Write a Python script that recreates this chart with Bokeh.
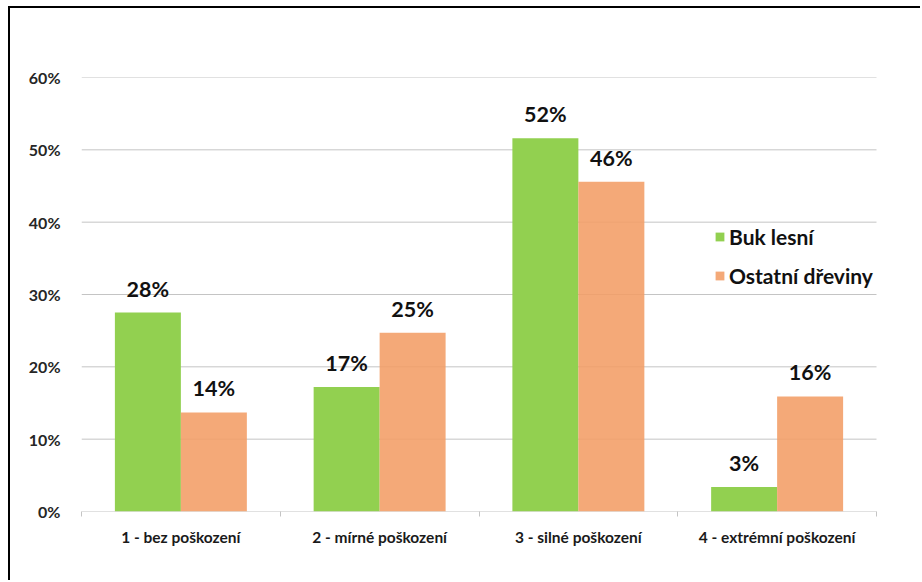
from bokeh.plotting import figure
from bokeh.models import (ColumnDataSource, FixedTicker, Legend, LegendItem,
                          Range1d, LabelSet)
from bokeh.core.properties import value
from bokeh.embed import file_html
from bokeh.resources import INLINE

# Damage classes and share of trees per class (%)
categories = ["1 - bez poškození", "2 - mírné poškození",
              "3 - silné poškození", "4 - extrémní poškození"]
buk_lesni = [27.5, 17.2, 51.6, 3.4]
ostatni_dreviny = [13.7, 24.7, 45.6, 15.9]
series_names = ["Buk lesní", "Ostatní dřeviny"]
y_ticks = [0, 10, 20, 30, 40, 50, 60]

FONT = "Lato"
GREEN = "#92d050"
ORANGE = "#f29d65"
GRID = "#c4c4c4"

n = len(categories)
centers = [i + 0.5 for i in range(n)]
bar_w = 0.332

# The frame reaches a little past the last category so that the legend
# text is not clipped; grid lines stop at the last category boundary.
plot_px, frame_px = 795, 814
x_end = n * frame_px / plot_px

src_g = ColumnDataSource(dict(
    x=[c - bar_w / 2 for c in centers], top=buk_lesni,
    label=[f"{round(v)}%" for v in buk_lesni]))
src_o = ColumnDataSource(dict(
    x=[c + bar_w / 2 for c in centers], top=ostatni_dreviny,
    label=[f"{round(v)}%" for v in ostatni_dreviny]))

p = figure(width=912, height=574, output_backend="svg", toolbar_location=None,
           x_range=Range1d(0, x_end), y_range=Range1d(0, 60),
           min_border_left=71, min_border_right=27,
           min_border_top=69, min_border_bottom=71)
p.styles = {"margin-left": "8px", "margin-top": "6px",
            "border-left": "2px solid #000000",
            "border-top": "2px solid #000000"}
p.outline_line_color = None
p.background_fill_color = "white"
p.xgrid.grid_line_color = None
p.ygrid.grid_line_color = None

# Horizontal grid lines (the one at 0 doubles as the category axis line)
p.segment(x0=[0] * len(y_ticks), x1=[n] * len(y_ticks), y0=y_ticks,
          y1=y_ticks, line_color=GRID, line_width=1)

# Bars
r_g = p.vbar(x="x", top="top", width=bar_w, bottom=0, source=src_g,
             fill_color=GREEN, line_color=None)
r_o = p.vbar(x="x", top="top", width=bar_w, bottom=0, source=src_o,
             fill_color=ORANGE, fill_alpha=0.88, line_color=None)

# Value labels above bars
for src in (src_g, src_o):
    p.add_layout(LabelSet(x="x", y="top", text="label", source=src,
                          text_align="center", text_baseline="bottom",
                          y_offset=11, text_font=value(FONT),
                          text_font_style="bold",
                          text_font_size=value("21.5px"),
                          text_color="#111111"))

# X axis: labels at group centres, tick marks at group boundaries
xa = p.xaxis[0]
xa.ticker = FixedTicker(ticks=centers, minor_ticks=list(range(n + 1)))
xa.major_label_overrides = {c: lab for c, lab in zip(centers, categories)}
xa.major_tick_line_color = None
xa.minor_tick_in = 0
xa.minor_tick_out = 5
xa.minor_tick_line_color = GRID
xa.axis_line_color = None
xa.major_label_text_font = FONT
xa.major_label_text_font_style = "bold"
xa.major_label_text_font_size = "15.5px"
xa.major_label_text_color = "#1a1a1a"
xa.major_label_standoff = 10

# Y axis: percentage labels only
ya = p.yaxis[0]
ya.ticker = FixedTicker(ticks=y_ticks)
ya.major_label_overrides = {t: f"{t}%" for t in y_ticks}
ya.axis_line_color = None
ya.major_tick_line_color = None
ya.minor_tick_line_color = None
ya.major_label_text_font = FONT
ya.major_label_text_font_style = "bold"
ya.major_label_text_font_size = "16px"
ya.major_label_text_color = "#262626"
ya.major_label_standoff = 15

legend = Legend(items=[LegendItem(label=series_names[0], renderers=[r_g]),
                       LegendItem(label=series_names[1], renderers=[r_o])],
                location=(633, 223), orientation="vertical",
                glyph_width=11, glyph_height=11, label_height=26,
                spacing=13, padding=0, margin=0, label_standoff=4,
                border_line_color=None, background_fill_alpha=0,
                label_text_font=FONT, label_text_font_style="bold",
                label_text_font_size="21px", label_text_color="#111111")
p.add_layout(legend, "center")

open("out.html", "w").write(file_html(p, INLINE))
